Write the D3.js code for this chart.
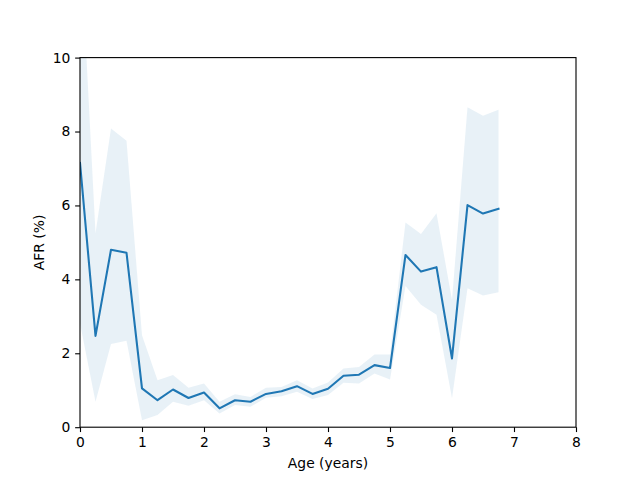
<!DOCTYPE html>
<html>
<head>
<meta charset="utf-8">
<script src="https://cdn.jsdelivr.net/npm/d3@7"></script>
<style>
body { margin: 0; background: #fff; }
svg { display: block; }
text { font-family: "DejaVu Sans", sans-serif; fill: #000; }
</style>
</head>
<body>
<svg id="chart" width="640" height="480"></svg>
<script>
const ages = [0, 0.25, 0.5, 0.75, 1, 1.25, 1.5, 1.75, 2, 2.25, 2.5, 2.75, 3, 3.25, 3.5, 3.75, 4, 4.25, 4.5, 4.75, 5, 5.25, 5.5, 5.75, 6, 6.25, 6.5, 6.75];
const afr = [7.15, 2.47, 4.80, 4.72, 1.05, 0.73, 1.02, 0.79, 0.94, 0.51, 0.73, 0.69, 0.90, 0.97, 1.11, 0.90, 1.04, 1.39, 1.42, 1.68, 1.60, 4.66, 4.21, 4.33, 1.86, 6.01, 5.78, 5.91];
const afrUpper = [13.4, 5.25, 8.08, 7.75, 2.49, 1.27, 1.41, 1.07, 1.18, 0.69, 0.89, 0.82, 1.07, 1.09, 1.27, 1.05, 1.21, 1.59, 1.63, 1.97, 1.97, 5.54, 5.23, 5.79, 3.44, 8.66, 8.43, 8.59];
const afrLower = [2.81, 0.69, 2.25, 2.34, 0.19, 0.33, 0.69, 0.58, 0.73, 0.37, 0.60, 0.55, 0.80, 0.84, 0.96, 0.76, 0.87, 1.20, 1.18, 1.45, 1.29, 3.82, 3.31, 3.04, 0.78, 3.76, 3.56, 3.65];
const xTicks = [0, 1, 2, 3, 4, 5, 6, 7, 8];
const yTicks = [0, 2, 4, 6, 8, 10];

(function () {
const svg = d3.select("#chart");
const mLeft = 80, mRight = 576, mTop = 57.6, mBottom = 427.2;
const x = d3.scaleLinear().domain([0, 8]).range([mLeft, mRight]);
const y = d3.scaleLinear().domain([0, 10]).range([mBottom, mTop]);
const color = "#1f77b4";
const fs = 13.89;

svg.append("defs").append("clipPath").attr("id", "clip")
  .append("rect").attr("x", mLeft).attr("y", mTop).attr("width", mRight - mLeft).attr("height", mBottom - mTop);

const data = ages.map((a, i) => ({a, v: afr[i], lo: afrLower[i], hi: afrUpper[i]}));

const plot = svg.append("g").attr("clip-path", "url(#clip)");
plot.append("path").datum(data)
  .attr("d", d3.area().x(d => x(d.a)).y0(d => y(d.lo)).y1(d => y(d.hi)))
  .attr("fill", color).attr("fill-opacity", 0.1).attr("stroke", "none");
plot.append("path").datum(data)
  .attr("d", d3.line().x(d => x(d.a)).y(d => y(d.v)))
  .attr("fill", "none").attr("stroke", color).attr("stroke-width", 2.08)
  .attr("stroke-linejoin", "round").attr("stroke-linecap", "square");

const xAxis = d3.axisBottom(x).tickValues(xTicks).tickFormat(d3.format("d")).tickSizeInner(4.86).tickSizeOuter(0).tickPadding(4.86);
const yAxis = d3.axisLeft(y).tickValues(yTicks).tickFormat(d3.format("d")).tickSizeInner(4.86).tickSizeOuter(0).tickPadding(4.86);

const gx = svg.append("g").attr("transform", `translate(0,${mBottom})`).call(xAxis);
const gy = svg.append("g").attr("transform", `translate(${mLeft},0)`).call(yAxis);
[gx, gy].forEach(g => {
  g.select(".domain").remove();
  g.selectAll(".tick line").attr("stroke", "#000").attr("stroke-width", 1.11);
  g.selectAll(".tick text").attr("font-size", fs).attr("font-family", "DejaVu Sans").attr("fill", "#000");
});

svg.append("rect").attr("x", mLeft).attr("y", mTop).attr("width", mRight - mLeft).attr("height", mBottom - mTop)
  .attr("fill", "none").attr("stroke", "#000").attr("stroke-width", 1.11);

svg.append("text").attr("x", (mLeft + mRight) / 2).attr("y", 467.5).attr("text-anchor", "middle")
  .attr("font-size", fs).text("Age (years)");
svg.append("text").attr("transform", `translate(44,${(mTop + mBottom) / 2}) rotate(-90)`).attr("text-anchor", "middle")
  .attr("font-size", fs).text("AFR (%)");
})();
</script>
</body>
</html>
